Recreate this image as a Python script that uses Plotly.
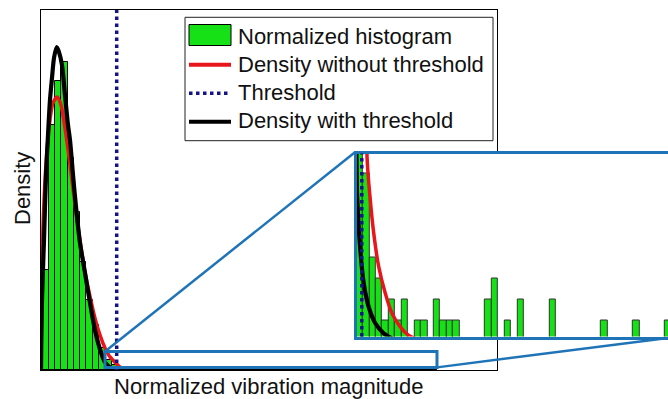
import plotly.graph_objects as go

# ---------------------------------------------------------------------------
# Data
# ---------------------------------------------------------------------------
# Histogram of normalized vibration magnitudes: equal-width bins
bin_start = 0.003
bin_width = 0.0138
counts = [500, 1225, 1445, 1540, 1060, 790, 540, 350, 225, 110,
          50, 25, 8, 4, 3, 1, 2, 1, 2, 0,
          1, 1, 0, 2, 1, 1, 1, 0, 0, 0,
          0, 2, 3, 0, 1, 0, 2, 0, 0, 0,
          0, 2, 0, 0, 0, 0, 0, 0, 0, 1,
          0, 0, 0, 0, 1, 0, 0, 0, 0, 1]

# Detection threshold on the magnitude
threshold = 0.166

# Fitted density, no threshold (red)
red_x = [0.0, 0.0022, 0.0066, 0.0132, 0.0197, 0.0263, 0.0357, 0.0439, 0.0526,
         0.0636, 0.0746, 0.0855, 0.0965, 0.1031, 0.1184, 0.1294, 0.1404, 0.1513,
         0.1772, 0.1842, 0.1915, 0.2023, 0.2164, 0.2308, 0.2486, 0.2666, 0.2808,
         0.3016, 0.34, 0.5, 0.7, 0.868]
red_y = [0.0, 4.58, 7.79, 10.08, 11.46, 12.24, 12.51, 12.14, 11.09,
         9.40, 7.56, 5.96, 4.49, 3.80, 2.38, 1.60, 1.01, 0.60,
         0.0808, 0.0618, 0.0474, 0.0326, 0.0210, 0.0123, 0.0063, 0.0026, 0.0013,
         0.0002, 0.0, 0.0, 0.0, 0.0]

# Fitted density with threshold (black)
black_x = [0.0, 0.0022, 0.0066, 0.011, 0.0154, 0.0197, 0.0241, 0.0285, 0.0344,
           0.0395, 0.046, 0.0526, 0.0592, 0.0636, 0.0702, 0.0768, 0.0855, 0.0965,
           0.1075, 0.1184, 0.1294, 0.1404, 0.1557, 0.1628, 0.1701, 0.1808, 0.195,
           0.213, 0.2308, 0.248, 0.28, 0.35, 0.5, 0.7, 0.868]
black_y = [0.0, 3.2, 5.96, 8.94, 10.77, 12.37, 13.38, 14.30, 14.80,
           14.57, 13.98, 12.60, 11.23, 10.54, 8.94, 7.47, 5.82, 4.45,
           3.07, 1.83, 0.95, 0.35, 0.065, 0.040, 0.0254, 0.0150, 0.0079,
           0.0035, 0.0013, 0.0002, 0.0, 0.0, 0.0, 0.0, 0.0]

legend_labels = ["Normalized histogram", "Density without threshold",
                 "Threshold", "Density with threshold"]
x_title = "Normalized vibration magnitude"
y_title = "Density"

# ---------------------------------------------------------------------------
# Layout constants
# ---------------------------------------------------------------------------
W, H = 668, 399
GREEN = "#16e016"
RED = "#e8161c"
NAVY = "#14148a"
BLUE = "#1f74b8"
FONT = "Liberation Sans, Arial, sans-serif"

MAIN_X = (0.0, 1.0)
MAIN_Y = (0.0, 16.5)
INSET_X = (0.1553, 0.8231)
INSET_Y = (0.0021, 0.082)   # baseline sits just under the inset frame
ZOOM_X = (0.1404, 0.8684)   # region of the main axes shown in the inset
ZOOM_Y = (0.12, 0.85)

main_dom_x = (41 / W, 497 / W)
main_dom_y = (1 - 370 / H, 1 - 10 / H)
inset_dom_x = (356.8 / W, 1.0)
inset_dom_y = (1 - 336.5 / H, 1 - 153.5 / H)


def px(x):
    return x / W


def py(y):
    return 1 - y / H


def main_to_paper(x, y):
    fx = (x - MAIN_X[0]) / (MAIN_X[1] - MAIN_X[0])
    fy = (y - MAIN_Y[0]) / (MAIN_Y[1] - MAIN_Y[0])
    return (main_dom_x[0] + fx * (main_dom_x[1] - main_dom_x[0]),
            main_dom_y[0] + fy * (main_dom_y[1] - main_dom_y[0]))


# Normalize counts to a density
n_total = sum(counts)
density = [c / (n_total * bin_width) for c in counts]
centers = [bin_start + bin_width * (i + 0.5) for i in range(len(counts))]

fig = go.Figure()

for xa, ya, edge in (("x", "y", "black"), ("x2", "y2", "#333333")):
    fig.add_trace(go.Bar(
        x=centers, y=density, width=bin_width, xaxis=xa, yaxis=ya,
        marker=dict(color=GREEN, line=dict(color=edge, width=1)),
        showlegend=False, hoverinfo="skip"))
    fig.add_trace(go.Scatter(
        x=red_x, y=red_y, mode="lines", xaxis=xa, yaxis=ya,
        line=dict(color=RED, width=3.5, shape="spline", smoothing=0.8),
        showlegend=False, hoverinfo="skip"))
    fig.add_trace(go.Scatter(
        x=black_x, y=black_y, mode="lines", xaxis=xa, yaxis=ya,
        line=dict(color="black", width=4.2, shape="spline", smoothing=0.8),
        showlegend=False, hoverinfo="skip"))

shapes = []
# threshold lines in both axes
for xr, yr in (("x", "y domain"), ("x2", "y2 domain")):
    shapes.append(dict(type="line", xref=xr, yref=yr, x0=threshold, x1=threshold,
                       y0=0, y1=1, line=dict(color=NAVY, width=3.5, dash="dot")))

# zoom box in main axes
shapes.append(dict(type="rect", xref="x", yref="y", x0=ZOOM_X[0], x1=ZOOM_X[1],
                   y0=ZOOM_Y[0], y1=ZOOM_Y[1], line=dict(color=BLUE, width=3)))

# connectors from zoom box to inset
tl = main_to_paper(ZOOM_X[0], ZOOM_Y[1])
br = main_to_paper(ZOOM_X[1], ZOOM_Y[0])
shapes.append(dict(type="line", xref="paper", yref="paper", x0=tl[0], y0=tl[1],
                   x1=px(355.3), y1=py(152), line=dict(color=BLUE, width=2.5)))
shapes.append(dict(type="line", xref="paper", yref="paper", x0=br[0], y0=br[1],
                   x1=px(668), y1=py(338), line=dict(color=BLUE, width=2.5)))

# legend box and symbols
shapes.append(dict(type="rect", xref="paper", yref="paper", x0=px(185), x1=px(493),
                   y0=py(140.7), y1=py(17.3), fillcolor="white",
                   line=dict(color="#222222", width=1)))
shapes.append(dict(type="rect", xref="paper", yref="paper", x0=px(189), x1=px(231),
                   y0=py(45.5), y1=py(24.5), fillcolor=GREEN,
                   line=dict(color="black", width=1)))
sym_rows = [(64.8, RED, 4, "solid"), (93.2, NAVY, 3.5, "dot"), (121.7, "black", 4, "solid")]
for yy, col, lw, dash in sym_rows:
    shapes.append(dict(type="line", xref="paper", yref="paper", x0=px(189), x1=px(231),
                       y0=py(yy), y1=py(yy), line=dict(color=col, width=lw, dash=dash)))

annotations = []
for label, yy in zip(legend_labels, [36.0, 64.0, 92.3, 120.6]):
    annotations.append(dict(text=label, xref="paper", yref="paper", x=px(236), y=py(yy),
                            xanchor="left", yanchor="middle", showarrow=False,
                            font=dict(family=FONT, size=22, color="#111111")))
annotations.append(dict(text=x_title, xref="paper", yref="paper", x=px(268), y=py(386.5),
                        xanchor="center", yanchor="middle", showarrow=False, borderpad=0,
                        font=dict(family=FONT, size=22, color="#111111")))
annotations.append(dict(text=y_title, xref="paper", yref="paper", x=px(23), y=py(189),
                        xanchor="center", yanchor="middle", showarrow=False, textangle=-90,
                        font=dict(family=FONT, size=22, color="#111111")))

axis_common = dict(showgrid=False, zeroline=False, showticklabels=False, ticks="",
                   showline=True, fixedrange=True)

fig.update_layout(
    width=W, height=H,
    margin=dict(l=0, r=0, t=0, b=0),
    paper_bgcolor="white", plot_bgcolor="white",
    showlegend=False, bargap=0,
    font=dict(family=FONT),
    xaxis=dict(domain=list(main_dom_x), range=list(MAIN_X), anchor="y", mirror=True,
               linecolor="black", linewidth=1, **axis_common),
    yaxis=dict(domain=list(main_dom_y), range=list(MAIN_Y), anchor="x", mirror=True,
               linecolor="black", linewidth=1, **axis_common),
    xaxis2=dict(domain=list(inset_dom_x), range=list(INSET_X), anchor="y2", mirror=True,
                linecolor=BLUE, linewidth=3, **axis_common),
    yaxis2=dict(domain=list(inset_dom_y), range=list(INSET_Y), anchor="x2", mirror=False,
                linecolor=BLUE, linewidth=3, **axis_common),
    shapes=shapes,
    annotations=annotations,
)

fig.write_html("out.html")
